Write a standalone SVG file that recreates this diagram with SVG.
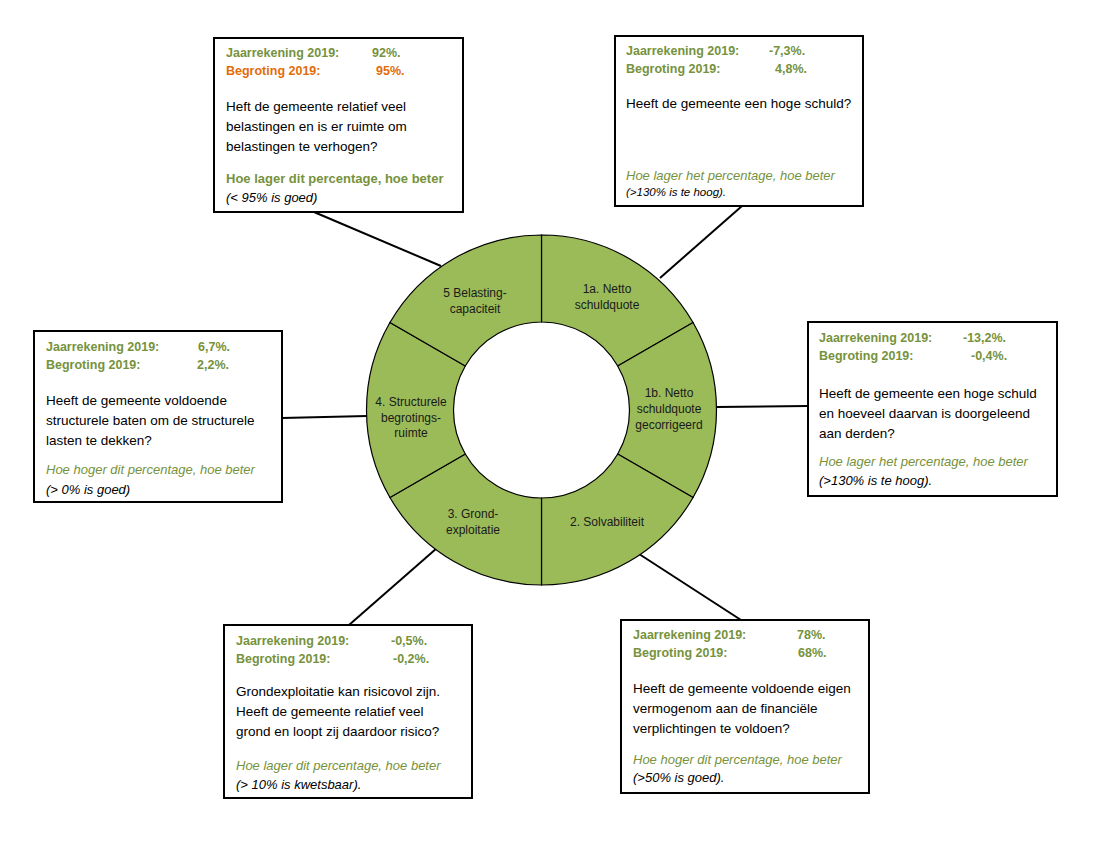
<svg xmlns="http://www.w3.org/2000/svg" width="1093" height="850" viewBox="0 0 1093 850">
<style>
text{font-family:"Liberation Sans",Arial,sans-serif;fill:#000}
.box{fill:#fff;stroke:#000;stroke-width:2}
.seg{fill:#9BBB59;stroke:#000;stroke-width:1.2}
.lbl{font-size:12px;text-anchor:middle;fill:#1a1a1a}
.hd{font-size:12.5px;font-weight:bold;fill:#76923C}
.or{fill:#E36C09}
.bd{font-size:13.5px}
.gi{font-size:13px;font-style:italic;fill:#76923C}
.gb{font-size:13px;font-weight:bold;fill:#76923C}
.it{font-size:13px;font-style:italic}
.sm{font-size:11.5px;font-style:italic}
.con{stroke:#000;stroke-width:2;fill:none}
</style>
<rect width="1093" height="850" fill="#fff"/>
<g id="connectors">
<line class="con" x1="314" y1="212" x2="441" y2="266"/>
<line class="con" x1="742" y1="206" x2="660" y2="278"/>
<line class="con" x1="717" y1="407" x2="808" y2="406"/>
<line class="con" x1="282" y1="418" x2="367" y2="416"/>
<line class="con" x1="349" y1="625" x2="437" y2="548"/>
<line class="con" x1="636" y1="552" x2="741" y2="620"/>
</g>
<g id="seg-1a">
<path class="seg" d="M541.5,235 A175,175 0 0 1 693.05,322.5 L617.71,366 A88,88 0 0 0 541.5,322 Z"/>
<text class="lbl" x="607" y="293">1a. Netto</text>
<text class="lbl" x="607" y="309">schuldquote</text>
</g>
<g id="seg-1b">
<path class="seg" d="M693.05,322.5 A175,175 0 0 1 693.05,497.5 L617.71,454 A88,88 0 0 0 617.71,366 Z"/>
<text class="lbl" x="669" y="397">1b. Netto</text>
<text class="lbl" x="669" y="413">schuldquote</text>
<text class="lbl" x="669" y="429">gecorrigeerd</text>
</g>
<g id="seg-2">
<path class="seg" d="M693.05,497.5 A175,175 0 0 1 541.5,585 L541.5,498 A88,88 0 0 0 617.71,454 Z"/>
<text class="lbl" x="607" y="526">2. Solvabiliteit</text>
</g>
<g id="seg-3">
<path class="seg" d="M541.5,585 A175,175 0 0 1 389.95,497.5 L465.29,454 A88,88 0 0 0 541.5,498 Z"/>
<text class="lbl" x="473" y="518">3. Grond-</text>
<text class="lbl" x="473" y="534">exploitatie</text>
</g>
<g id="seg-4">
<path class="seg" d="M389.95,497.5 A175,175 0 0 1 389.95,322.5 L465.29,366 A88,88 0 0 0 465.29,454 Z"/>
<text class="lbl" x="411" y="406">4. Structurele</text>
<text class="lbl" x="411" y="422">begrotings-</text>
<text class="lbl" x="411" y="437">ruimte</text>
</g>
<g id="seg-5">
<path class="seg" d="M389.95,322.5 A175,175 0 0 1 541.5,235 L541.5,322 A88,88 0 0 0 465.29,366 Z"/>
<text class="lbl" x="475" y="297">5 Belasting-</text>
<text class="lbl" x="475" y="313">capaciteit</text>
</g>
<g id="box-5">
<rect class="box" x="214" y="38" width="249" height="174"/>
<text class="hd" x="226" y="57">Jaarrekening 2019:</text>
<text class="hd" x="372" y="57">92%.</text>
<text class="hd or" x="226" y="75">Begroting 2019:</text>
<text class="hd or" x="376" y="75">95%.</text>
<text class="bd" x="226" y="111">Heft de gemeente relatief veel</text>
<text class="bd" x="226" y="131">belastingen en is er ruimte om</text>
<text class="bd" x="226" y="151">belastingen te verhogen?</text>
<text class="gb" x="226" y="183">Hoe lager dit percentage, hoe beter</text>
<text class="it" x="226" y="202">(&lt; 95% is goed)</text>
</g>
<g id="box-1a">
<rect class="box" x="615" y="36" width="248" height="170"/>
<text class="hd" x="626" y="55">Jaarrekening 2019:</text>
<text class="hd" x="769" y="55">-7,3%.</text>
<text class="hd" x="626" y="73">Begroting 2019:</text>
<text class="hd" x="775" y="73">4,8%.</text>
<text class="bd" x="626" y="108">Heeft de gemeente een hoge schuld?</text>
<text class="gi" x="626" y="180">Hoe lager het percentage, hoe beter</text>
<text class="sm" x="626" y="196">(&gt;130% is te hoog).</text>
</g>
<g id="box-1b">
<rect class="box" x="808" y="322" width="249" height="174"/>
<text class="hd" x="819" y="342">Jaarrekening 2019:</text>
<text class="hd" x="963" y="342">-13,2%.</text>
<text class="hd" x="819" y="360">Begroting 2019:</text>
<text class="hd" x="971" y="360">-0,4%.</text>
<text class="bd" x="819" y="398">Heeft de gemeente een hoge schuld</text>
<text class="bd" x="819" y="418">en hoeveel daarvan is doorgeleend</text>
<text class="bd" x="819" y="438">aan derden?</text>
<text class="gi" x="819" y="466">Hoe lager het percentage, hoe beter</text>
<text class="it" x="819" y="485">(&gt;130% is te hoog).</text>
</g>
<g id="box-4">
<rect class="box" x="34" y="331" width="248" height="171"/>
<text class="hd" x="46" y="351">Jaarrekening 2019:</text>
<text class="hd" x="198" y="351">6,7%.</text>
<text class="hd" x="46" y="369">Begroting 2019:</text>
<text class="hd" x="197" y="369">2,2%.</text>
<text class="bd" x="46" y="405">Heeft de gemeente voldoende</text>
<text class="bd" x="46" y="425">structurele baten om de structurele</text>
<text class="bd" x="46" y="445">lasten te dekken?</text>
<text class="gi" x="46" y="474">Hoe hoger dit percentage, hoe beter</text>
<text class="it" x="46" y="494">(&gt; 0% is goed)</text>
</g>
<g id="box-3">
<rect class="box" x="224" y="625" width="248" height="173"/>
<text class="hd" x="236" y="645">Jaarrekening 2019:</text>
<text class="hd" x="391" y="645">-0,5%.</text>
<text class="hd" x="236" y="663">Begroting 2019:</text>
<text class="hd" x="393" y="663">-0,2%.</text>
<text class="bd" x="236" y="696">Grondexploitatie kan risicovol zijn.</text>
<text class="bd" x="236" y="716">Heeft de gemeente relatief veel</text>
<text class="bd" x="236" y="736">grond en loopt zij daardoor risico?</text>
<text class="gi" x="236" y="770">Hoe lager dit percentage, hoe beter</text>
<text class="it" x="236" y="789">(&gt; 10% is kwetsbaar).</text>
</g>
<g id="box-2">
<rect class="box" x="621" y="620" width="248" height="173"/>
<text class="hd" x="633" y="639">Jaarrekening 2019:</text>
<text class="hd" x="797" y="639">78%.</text>
<text class="hd" x="633" y="657">Begroting 2019:</text>
<text class="hd" x="798" y="657">68%.</text>
<text class="bd" x="633" y="693">Heeft de gemeente voldoende eigen</text>
<text class="bd" x="633" y="713">vermogenom aan de financiële</text>
<text class="bd" x="633" y="733">verplichtingen te voldoen?</text>
<text class="gi" x="633" y="764">Hoe hoger dit percentage, hoe beter</text>
<text class="it" x="633" y="782">(&gt;50% is goed).</text>
</g>
</svg>
